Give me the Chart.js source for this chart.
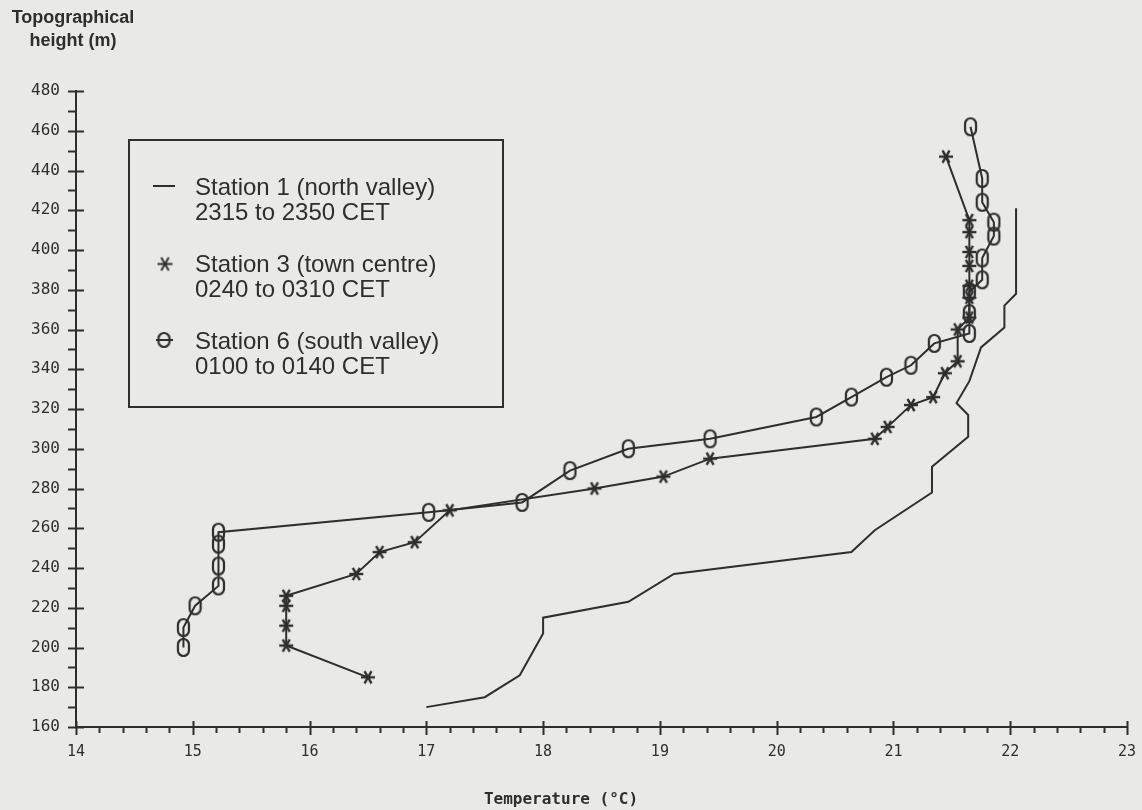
<!DOCTYPE html>
<html lang="en">
<head>
    <meta charset="UTF-8">
    <title>Temperature profiles - stations 1, 3 and 6</title>
    <script src="https://cdn.jsdelivr.net/npm/chart.js"></script>
    <style>
        body {
            margin: 0;
            background-color: #e9e9e7;
        }

        #wrap {
            width: 1142px;
            height: 810px;
        }
    </style>
</head>
<body>
    <div id="wrap">
        <canvas id="profileChart" width="1142" height="810"></canvas>
    </div>

    <script>
        // values: temperature (°C) against topographical height (m)
        const station1Temp = [17.0, 17.5, 17.8, 18.0, 18.0, 18.73, 19.12, 20.64, 20.84, 21.33, 21.33, 21.64, 21.64, 21.54, 21.65, 21.75, 21.95, 21.95, 22.05, 22.05];
        const station1Height = [170, 175, 186, 207, 215, 223, 237, 248, 259, 278, 291, 306, 317, 323, 334, 351, 361, 372, 378, 421];

        const station3Temp = [16.5, 15.8, 15.8, 15.8, 15.8, 16.4, 16.6, 16.9, 17.2, 18.44, 19.03, 19.43, 20.84, 20.95, 21.15, 21.34, 21.44, 21.55, 21.55, 21.65, 21.65, 21.65, 21.65, 21.65, 21.65, 21.65, 21.45];
        const station3Height = [185, 201, 211, 221, 226, 237, 248, 253, 269, 280, 286, 295, 305, 311, 322, 326, 338, 344, 360, 366, 376, 382, 392, 399, 409, 415, 447];

        const station6Temp = [14.92, 14.92, 15.02, 15.22, 15.22, 15.22, 15.22, 17.02, 17.82, 18.23, 18.73, 19.43, 20.34, 20.64, 20.94, 21.15, 21.35, 21.65, 21.65, 21.65, 21.76, 21.76, 21.86, 21.86, 21.76, 21.76, 21.66];
        const station6Height = [200, 210, 221, 231, 241, 252, 258, 268, 273, 289, 300, 305, 316, 326, 336, 342, 353, 358, 368, 379, 385, 396, 407, 414, 424, 436, 462];

        const xTickValues = [14, 15, 16, 17, 18, 19, 20, 21, 22, 23];
        const yTickValues = [160, 180, 200, 220, 240, 260, 280, 300, 320, 340, 360, 380, 400, 420, 440, 460, 480];

        const legendLines = [
            ['Station 1 (north valley)', '2315 to 2350 CET'],
            ['Station 3 (town centre)', '0240 to 0310 CET'],
            ['Station 6 (south valley)', '0100 to 0140 CET']
        ];

        const ink = '#2e2e2e';
        const paper = '#e9e9e7';

        function toPoints(xs, ys) {
            return xs.map((x, i) => ({ x: x, y: ys[i] }));
        }

        // asterisk marker like the plotter one
        function starMarker(r, lw) {
            const c = document.createElement('canvas');
            const s = Math.ceil(r * 2 + 4);
            c.width = c.height = s;
            const g = c.getContext('2d');
            g.strokeStyle = ink;
            g.lineWidth = lw;
            const m = s / 2;
            [0, 60, 120].forEach(deg => {
                const a = deg * Math.PI / 180;
                g.beginPath();
                g.moveTo(m - r * Math.cos(a), m - r * Math.sin(a));
                g.lineTo(m + r * Math.cos(a), m + r * Math.sin(a));
                g.stroke();
            });
            return c;
        }

        // tall "0" shaped marker
        function ovalMarker(w, h) {
            const c = document.createElement('canvas');
            c.width = w + 4;
            c.height = h + 4;
            const g = c.getContext('2d');
            g.strokeStyle = ink;
            g.lineWidth = 2.2;
            const r = w / 2;
            g.beginPath();
            g.moveTo(2, 2 + r);
            g.arc(2 + r, 2 + r, r, Math.PI, 0);
            g.lineTo(2 + w, 2 + h - r);
            g.arc(2 + r, 2 + h - r, r, 0, Math.PI);
            g.closePath();
            g.stroke();
            return c;
        }

        const starImg = starMarker(7, 2.4);
        const starLegend = starMarker(7.5, 2);
        const ovalImg = ovalMarker(11, 17);
        const ovalSmall = ovalMarker(11, 14);

        const paperPlugin = {
            id: 'paper',
            beforeDraw(chart) {
                const ctx = chart.ctx;
                ctx.save();
                ctx.fillStyle = paper;
                ctx.fillRect(0, 0, chart.width, chart.height);
                ctx.restore();
            },
            afterDraw(chart) {
                const ctx = chart.ctx;
                const x = chart.scales.x;
                const y = chart.scales.y;
                const area = chart.chartArea;
                ctx.save();
                ctx.strokeStyle = ink;
                ctx.lineWidth = 2;

                // x ticks: majors cross the axis, minors hang below
                for (let i = 0; i <= 45; i++) {
                    const px = Math.round(x.getPixelForValue(14 + i * 0.2)) + 0.5;
                    const major = i % 5 === 0;
                    ctx.beginPath();
                    ctx.moveTo(px, area.bottom - (major ? 6 : 0));
                    ctx.lineTo(px, area.bottom + (major ? 8 : 6));
                    ctx.stroke();
                }
                // y ticks: majors cross, minors go left
                for (let i = 0; i <= 32; i++) {
                    const py = Math.round(y.getPixelForValue(160 + i * 10)) + 0.5;
                    const major = i % 2 === 0;
                    ctx.beginPath();
                    ctx.moveTo(area.left - 8, py);
                    ctx.lineTo(area.left + (major ? 8 : 0), py);
                    ctx.stroke();
                }

                // axis titles
                ctx.fillStyle = ink;
                ctx.textAlign = 'center';
                ctx.textBaseline = 'alphabetic';
                ctx.font = 'bold 18px "Liberation Sans", Arial, sans-serif';
                ctx.fillText('Topographical', 73, 23);
                ctx.fillText('height (m)', 73, 46);
                ctx.font = 'bold 16px "DejaVu Sans Mono", monospace';
                ctx.fillText('Temperature (°C)', 561, 804);

                // legend box
                ctx.lineWidth = 2;
                ctx.strokeRect(129, 140, 374, 267);
                ctx.textAlign = 'left';
                ctx.font = '24px "Liberation Sans", Arial, sans-serif';
                const baselines = [[195, 220], [272, 297], [349, 374]];
                legendLines.forEach((lines, i) => {
                    ctx.fillText(lines[0], 195, baselines[i][0]);
                    ctx.fillText(lines[1], 195, baselines[i][1]);
                });
                ctx.beginPath();
                ctx.moveTo(153, 186);
                ctx.lineTo(175, 186);
                ctx.stroke();
                ctx.drawImage(starLegend, 165 - starLegend.width / 2, 264 - starLegend.height / 2);
                ctx.drawImage(ovalSmall, 164 - ovalSmall.width / 2, 340 - ovalSmall.height / 2);
                ctx.beginPath();
                ctx.moveTo(156, 340);
                ctx.lineTo(173, 340);
                ctx.stroke();
                ctx.restore();
            }
        };

        const ctx = document.getElementById('profileChart').getContext('2d');

        const chart = new Chart(ctx, {
            type: 'scatter',
            data: {
                datasets: [
                    {
                        label: legendLines[0][0],
                        data: toPoints(station1Temp, station1Height),
                        showLine: true,
                        borderColor: ink,
                        borderWidth: 2,
                        pointRadius: 0,
                        tension: 0
                    },
                    {
                        label: legendLines[1][0],
                        data: toPoints(station3Temp, station3Height),
                        showLine: true,
                        borderColor: ink,
                        borderWidth: 2,
                        pointRadius: 6,
                        pointStyle: starImg,
                        tension: 0
                    },
                    {
                        label: legendLines[2][0],
                        data: toPoints(station6Temp, station6Height),
                        showLine: true,
                        borderColor: ink,
                        borderWidth: 2,
                        pointRadius: 6,
                        pointStyle: ovalImg,
                        tension: 0
                    }
                ]
            },
            options: {
                responsive: false,
                animation: false,
                layout: {
                    padding: { top: 91, right: 15, bottom: 0, left: 0 }
                },
                scales: {
                    x: {
                        type: 'linear',
                        min: 14,
                        max: 23,
                        afterBuildTicks: s => { s.ticks = xTickValues.map(v => ({ value: v })); },
                        afterFit: s => {
                            s.height = 83;
                            s.paddingLeft = 0;
                            s.paddingRight = 0;
                        },
                        grid: { drawOnChartArea: false, drawTicks: false },
                        border: { display: true, color: ink, width: 2 },
                        ticks: {
                            color: ink,
                            padding: 16,
                            font: { family: "'DejaVu Sans Mono', monospace", size: 15 }
                        }
                    },
                    y: {
                        type: 'linear',
                        min: 160,
                        max: 480,
                        afterBuildTicks: s => { s.ticks = yTickValues.map(v => ({ value: v })); },
                        afterFit: s => {
                            s.width = 76;
                            s.paddingTop = 0;
                            s.paddingBottom = 0;
                        },
                        grid: { drawOnChartArea: false, drawTicks: false },
                        border: { display: true, color: ink, width: 2 },
                        ticks: {
                            color: ink,
                            padding: 16,
                            font: { family: "'DejaVu Sans Mono', monospace", size: 16 }
                        }
                    }
                },
                plugins: {
                    legend: { display: false },
                    tooltip: { enabled: false }
                }
            },
            plugins: [paperPlugin]
        });
    </script>
</body>
</html>
